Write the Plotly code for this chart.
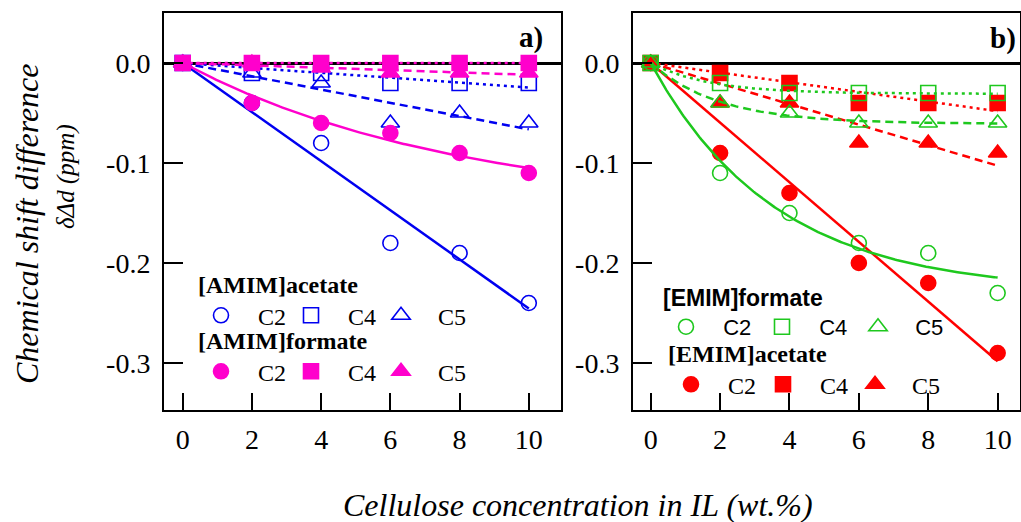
import numpy as np
import plotly.graph_objects as go

# Cellulose concentration (wt.%)
conc = [0, 2, 4, 6, 8, 10]

# Chemical shift differences (ppm), panel a: [AMIM] salts
amim_acetate_c2 = [0, -0.04, -0.08, -0.18, -0.19, -0.24]
amim_acetate_c4 = [0, -0.01, -0.01, -0.02, -0.02, -0.02]
amim_acetate_c5 = [0, -0.01, -0.02, -0.06, -0.05, -0.06]
amim_formate_c2 = [0, -0.04, -0.06, -0.07, -0.09, -0.11]
amim_formate_c4 = [0, 0, 0, 0, 0, 0]
amim_formate_c5 = [0, 0, -0.005, -0.01, -0.01, -0.01]

# Panel b: [EMIM] salts
emim_formate_c2 = [0, -0.11, -0.15, -0.18, -0.19, -0.23]
emim_formate_c4 = [0, -0.02, -0.03, -0.03, -0.03, -0.03]
emim_formate_c5 = [0, -0.04, -0.05, -0.06, -0.06, -0.06]
emim_acetate_c2 = [0, -0.09, -0.13, -0.20, -0.22, -0.29]
emim_acetate_c4 = [0, -0.01, -0.02, -0.04, -0.04, -0.04]
emim_acetate_c5 = [0, -0.04, -0.04, -0.08, -0.08, -0.09]

x_ticks = [0, 2, 4, 6, 8, 10]
y_ticks = [0.0, -0.1, -0.2, -0.3]
y_tick_text = ["0.0", "-0.1", "-0.2", "-0.3"]

BLUE = "#0000F0"
MAGENTA = "#FF00CC"
GREEN = "#1EC81E"
RED = "#FF0000"
SERIF = "Liberation Serif"
SANS = "Liberation Sans"
NB = "\u00a0\u00a0"  # gap between legend symbol and label

xs = np.asarray(conc, dtype=float)
xfine = np.linspace(0, 10, 200)


def origin_line(y):
    """Least-squares straight line through the origin."""
    y = np.asarray(y, dtype=float)
    k = np.sum(xs * y) / np.sum(xs * xs)
    return k * xfine


def saturating(y):
    """Least-squares fit of a*(1-exp(-x/b)), b by grid search."""
    y = np.asarray(y, dtype=float)
    best = None
    for b in np.linspace(0.3, 60, 3000):
        f = 1 - np.exp(-xs / b)
        a = np.sum(f * y) / np.sum(f * f)
        sse = np.sum((a * f - y) ** 2)
        if best is None or sse < best[0]:
            best = (sse, a, b)
    _, a, b = best
    return a * (1 - np.exp(-xfine / b))


fig = go.Figure()


def add_fit(yfit, color, dash, axis):
    fig.add_trace(go.Scatter(
        x=xfine, y=yfit, mode="lines", showlegend=False, hoverinfo="skip",
        line=dict(color=color, width=2.5, dash=dash),
        xaxis="x" + axis, yaxis="y" + axis))


def add_points(y, name, color, symbol, filled, axis, legend):
    fig.add_trace(go.Scatter(
        x=conc, y=y, mode="markers", name=NB + name, legend=legend,
        marker=dict(symbol=symbol if filled else symbol + "-open",
                    size=15 if symbol != "triangle-up" else 16,
                    color=color, line=dict(color=color, width=1.6)),
        xaxis="x" + axis, yaxis="y" + axis))


DOT = "3px,4px"
DASH = "8px,5px"

# panel a
add_fit(origin_line(amim_acetate_c2), BLUE, "solid", "")
add_fit(origin_line(amim_acetate_c4), BLUE, DOT, "")
add_fit(origin_line(amim_acetate_c5), BLUE, DASH, "")
add_points(amim_acetate_c2, "C2", BLUE, "circle", False, "", "legend")
add_points(amim_acetate_c4, "C4", BLUE, "square", False, "", "legend")
add_points(amim_acetate_c5, "C5", BLUE, "triangle-up", False, "", "legend")
add_fit(saturating(amim_formate_c2), MAGENTA, "solid", "")
add_fit(origin_line(amim_formate_c4), MAGENTA, DOT, "")
add_fit(origin_line(amim_formate_c5), MAGENTA, DASH, "")
add_points(amim_formate_c2, "C2", MAGENTA, "circle", True, "", "legend2")
add_points(amim_formate_c4, "C4", MAGENTA, "square", True, "", "legend2")
add_points(amim_formate_c5, "C5", MAGENTA, "triangle-up", True, "", "legend2")

# panel b
add_fit(origin_line(emim_acetate_c2), RED, "solid", "2")
add_fit(origin_line(emim_acetate_c4), RED, DOT, "2")
add_fit(origin_line(emim_acetate_c5), RED, DASH, "2")
add_points(emim_acetate_c2, "C2", RED, "circle", True, "2", "legend4")
add_points(emim_acetate_c4, "C4", RED, "square", True, "2", "legend4")
add_points(emim_acetate_c5, "C5", RED, "triangle-up", True, "2", "legend4")
add_fit(saturating(emim_formate_c2), GREEN, "solid", "2")
add_fit(saturating(emim_formate_c4), GREEN, DOT, "2")
add_fit(saturating(emim_formate_c5), GREEN, DASH, "2")
add_points(emim_formate_c2, "C2", GREEN, "circle", False, "2", "legend3")
add_points(emim_formate_c4, "C4", GREEN, "square", False, "2", "legend3")
add_points(emim_formate_c5, "C5", GREEN, "triangle-up", False, "2", "legend3")

W, H = 1021, 522
tickfont = dict(family=SERIF, size=28, color="black")

xaxis_common = dict(
    tickvals=x_ticks, ticks="inside", ticklen=17, tickwidth=2, tickcolor="black",
    showline=True, linecolor="black", linewidth=2, mirror=True,
    showgrid=False, zeroline=False, tickfont=tickfont, ticklabelstandoff=3)
yaxis_common = dict(
    range=[-0.347, 0.05], tickvals=y_ticks, ticktext=y_tick_text,
    ticks="inside", ticklen=19, tickwidth=2, tickcolor="black",
    showline=True, linecolor="black", linewidth=2, mirror=True,
    showgrid=False, zeroline=True, zerolinecolor="black", zerolinewidth=2.5,
    tickfont=tickfont, ticklabelstandoff=6, domain=[1 - 410 / H, 1 - 13 / H])


def legend_box(x, y, title, title_font, item_font, entry):
    return dict(
        x=x / W, y=1 - y / H, xanchor="left", yanchor="top",
        orientation="h", bgcolor="rgba(0,0,0,0)", borderwidth=0,
        entrywidth=entry, entrywidthmode="pixels", itemwidth=40,
        tracegroupgap=0, itemclick=False,
        title=dict(text=title, side="top", font=title_font),
        font=item_font)


serif_bold = dict(family=SERIF, size=24, color="black", weight="bold")
sans_bold = dict(family=SANS, size=23, color="black", weight="bold")
serif_item = dict(family=SERIF, size=24, color="black")
sans_item = dict(family=SANS, size=22, color="black")

fig.update_layout(
    width=W, height=H, margin=dict(l=0, r=0, t=0, b=0, autoexpand=False),
    paper_bgcolor="white", plot_bgcolor="white",
    xaxis=dict(xaxis_common, domain=[164 / W, 561 / W], range=[-0.54, 10.93], anchor="y"),
    yaxis=dict(yaxis_common, anchor="x"),
    xaxis2=dict(xaxis_common, domain=[633 / W, 1019.5 / W], range=[-0.51, 10.63], anchor="y2"),
    yaxis2=dict(yaxis_common, anchor="x2"),
    legend=legend_box(196, 262, "[AMIM]acetate", serif_bold, serif_item, 35),
    legend2=legend_box(196, 318, "[AMIM]formate", serif_bold, serif_item, 35),
    legend3=legend_box(661, 276, "[EMIM]formate", sans_bold, sans_item, 41),
    legend4=legend_box(666, 331, "[EMIM]acetate", serif_bold, serif_item, 37),
    showlegend=True,
)

annotations = [
    dict(text="<b>a)</b>", x=531 / W, y=1 - 38 / H, font=dict(family=SERIF, size=29)),
    dict(text="<b>b)</b>", x=1003 / W, y=1 - 39 / H, font=dict(family=SERIF, size=29)),
    dict(text="Cellulose concentration in IL (wt.%)", x=578 / W, y=1 - 505 / H,
         font=dict(family=SERIF, size=32, style="italic")),
    dict(text="Chemical shift difference", x=27 / W, y=1 - 224 / H, textangle=-90,
         font=dict(family=SERIF, size=32, style="italic")),
    dict(text="δΔd (ppm)", x=66 / W, y=1 - 177 / H, textangle=-90,
         font=dict(family=SERIF, size=25, style="italic")),
]
for a in annotations:
    a.update(xref="paper", yref="paper", showarrow=False,
             xanchor="center", yanchor="middle")
    a["font"].setdefault("color", "black")
fig.update_layout(annotations=annotations)

fig.write_html("out.html")
